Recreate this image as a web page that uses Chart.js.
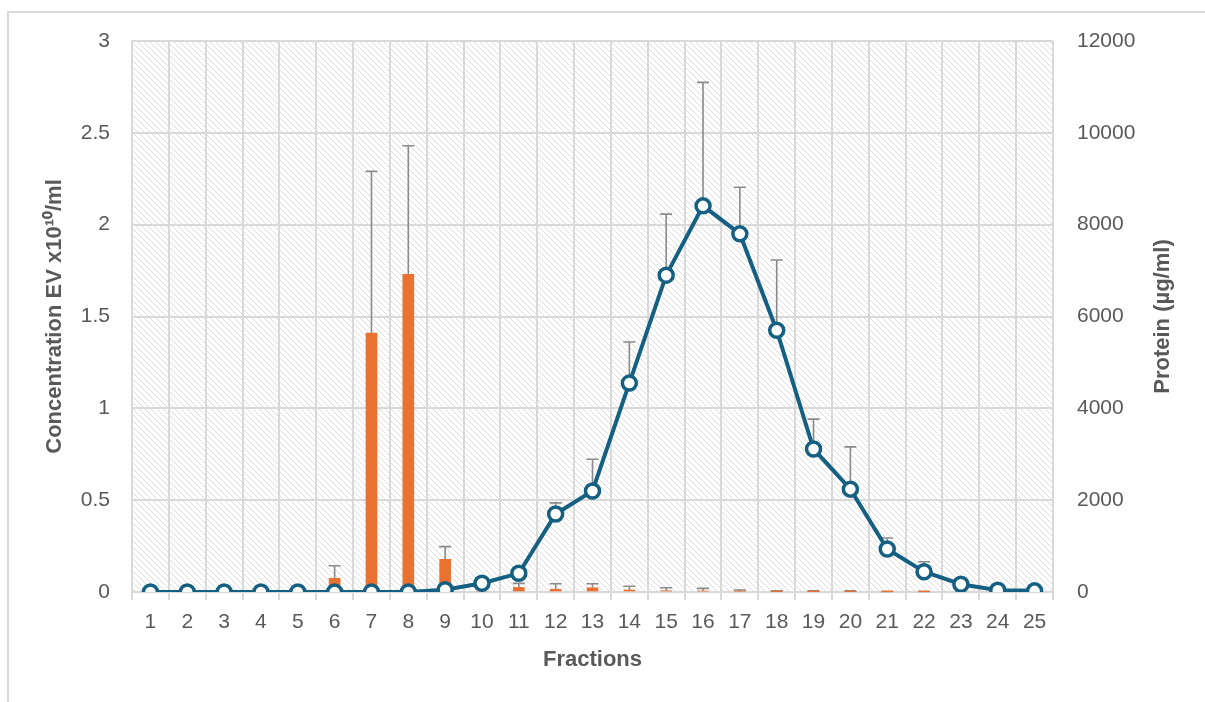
<!DOCTYPE html>
<html>
<head>
<meta charset="utf-8">
<script src="https://cdn.jsdelivr.net/npm/chart.js@4.4.1/dist/chart.umd.min.js"></script>
<style>
  body { margin: 0; background: #fff; overflow: hidden; }
  #wrap { position: relative; width: 1205px; height: 702px; }
  #frame { position: absolute; left: 7px; top: 11px; width: 1210px; height: 700px;
           border-top: 2px solid #d9d9d9; border-left: 2px solid #d9d9d9; }
  #graph { position: absolute; left: 0; top: 0; }
</style>
</head>
<body>
<div id="wrap">
  <div id="frame"></div>
  <canvas id="graph" width="1205" height="702"></canvas>
</div>
<script>
var fractions = ["1","2","3","4","5","6","7","8","9","10","11","12","13","14","15","16","17","18","19","20","21","22","23","24","25"];
// EV concentration (x10^10/ml), bars, left axis
var evConc = [0,0,0,0,0,0.075,1.41,1.73,0.178,0,0.025,0.015,0.023,0.011,0.007,0.005,0.004,0.002,0.002,0.002,0.001,0.001,0,0,0];
var evErr  = [0,0,0,0,0,0.068,0.88,0.70,0.069,0,0.022,0.03,0.022,0.02,0.016,0.015,0.007,0.004,0.004,0.004,0.002,0.002,0,0,0];
// protein (ug/ml), line, right axis
var protein = [0,0,0,0,0,0,0,0,50,190,407,1700,2200,4550,6900,8410,7800,5700,3115,2240,936,442,170,40,25];
var protErr = [0,0,0,0,0,0,0,0,0,0,0,240,690,895,1330,2690,1015,1530,650,920,240,218,0,0,0];

var txt = "#595959";
var gridCol = "#d9d9d9";
var fontFam = "'Liberation Sans', Arial, sans-serif";

function hatch(){
    var c = document.createElement("canvas");
    c.width = 6; c.height = 6;
    var x = c.getContext("2d");
    x.strokeStyle = "#dcdcdc";
    x.lineWidth = 1;
    x.beginPath();
    x.moveTo(0,0); x.lineTo(6,6);
    x.moveTo(-1,5); x.lineTo(1,7);
    x.moveTo(5,-1); x.lineTo(7,1);
    x.stroke();
    return x.createPattern(c, "repeat");
}

var bgHatch = {
    id: "bgHatch",
    beforeDraw: function(chart){
        var a = chart.chartArea, ctx = chart.ctx;
        ctx.save();
        ctx.fillStyle = hatch();
        ctx.fillRect(a.left, a.top, a.right - a.left, a.bottom - a.top);
        ctx.restore();
    }
};

var errorBars = {
    id: "errorBars",
    beforeDatasetsDraw: function(chart){
        var ctx = chart.ctx;
        chart.data.datasets.forEach(function(ds, i){
            if (!ds.errors) return;
            var meta = chart.getDatasetMeta(i);
            var sc = chart.scales[ds.yAxisID];
            meta.data.forEach(function(el, j){
                var e = ds.errors[j];
                if (!e) return;
                var y0 = sc.getPixelForValue(ds.data[j]);
                var y1 = sc.getPixelForValue(ds.data[j] + e);
                ctx.save();
                ctx.strokeStyle = "#8a8a8a";
                ctx.lineWidth = 1.6;
                ctx.beginPath();
                ctx.moveTo(el.x, y0); ctx.lineTo(el.x, y1);
                ctx.moveTo(el.x - 6, y1); ctx.lineTo(el.x + 6, y1);
                ctx.stroke();
                ctx.restore();
            });
        });
    }
};

var rightTitle = {
    id: "rightTitle",
    afterDraw: function(chart){
        var s = chart.scales.y1, ctx = chart.ctx;
        ctx.save();
        ctx.translate(s.right - 42, (s.top + s.bottom) / 2);
        ctx.rotate(-Math.PI / 2);
        ctx.fillStyle = txt;
        ctx.font = "bold 22px " + fontFam;
        ctx.textAlign = "center";
        ctx.textBaseline = "middle";
        ctx.fillText("Protein (\u00b5g/ml)", 0, 0);
        ctx.restore();
    }
};

new Chart("graph", {
    type: "bar",
    data: {
        labels: fractions,
        datasets: [{
            type: "line",
            data: protein,
            errors: protErr,
            yAxisID: "y1",
            borderColor: "#156082",
            borderWidth: 4,
            pointRadius: 7,
            pointBorderWidth: 3.5,
            pointBackgroundColor: "#ffffff",
            pointBorderColor: "#156082",
            fill: false,
            order: 0
        }, {
            type: "bar",
            data: evConc,
            errors: evErr,
            yAxisID: "y",
            backgroundColor: "#E97132",
            barThickness: 11,
            order: 1
        }]
    },
    options: {
        responsive: false,
        animation: false,
        layout: { padding: { top: 41, left: 0, right: 0, bottom: 0 } },
        plugins: { legend: { display: false }, tooltip: { enabled: false } },
        scales: {
            x: {
                offset: true,
                grid: { color: gridCol, lineWidth: 2, tickLength: 8, offset: true },
                border: { color: gridCol, width: 2 },
                ticks: { color: txt, font: { family: fontFam, size: 21 }, padding: 10, maxRotation: 0 },
                title: { display: true, text: "Fractions", color: txt,
                         font: { family: fontFam, size: 22, weight: "bold" }, padding: { bottom: 29 } },
                afterFit: function(s){ s.height = 110; }
            },
            y: {
                position: "left",
                min: 0, max: 3,
                ticks: { stepSize: 0.5, color: txt, font: { family: fontFam, size: 21 }, padding: 22,
                         callback: function(v){ return String(v); } },
                grid: { color: gridCol, lineWidth: 2, drawTicks: false },
                border: { color: gridCol, width: 2 },
                title: { display: true, text: "Concentration EV x10\u00b9\u2070/ml", color: txt,
                         font: { family: fontFam, size: 22, weight: "bold" }, padding: { top: 42 } },
                afterFit: function(s){ s.width = 132; }
            },
            y1: {
                position: "right",
                min: 0, max: 12000,
                ticks: { stepSize: 2000, color: txt, font: { family: fontFam, size: 21 }, padding: 24,
                         callback: function(v){ return String(v); } },
                grid: { drawOnChartArea: false, drawTicks: false },
                border: { display: false },
                afterFit: function(s){ s.width = 152; }
            }
        }
    },
    plugins: [bgHatch, errorBars, rightTitle]
});
</script>
</body>
</html>
